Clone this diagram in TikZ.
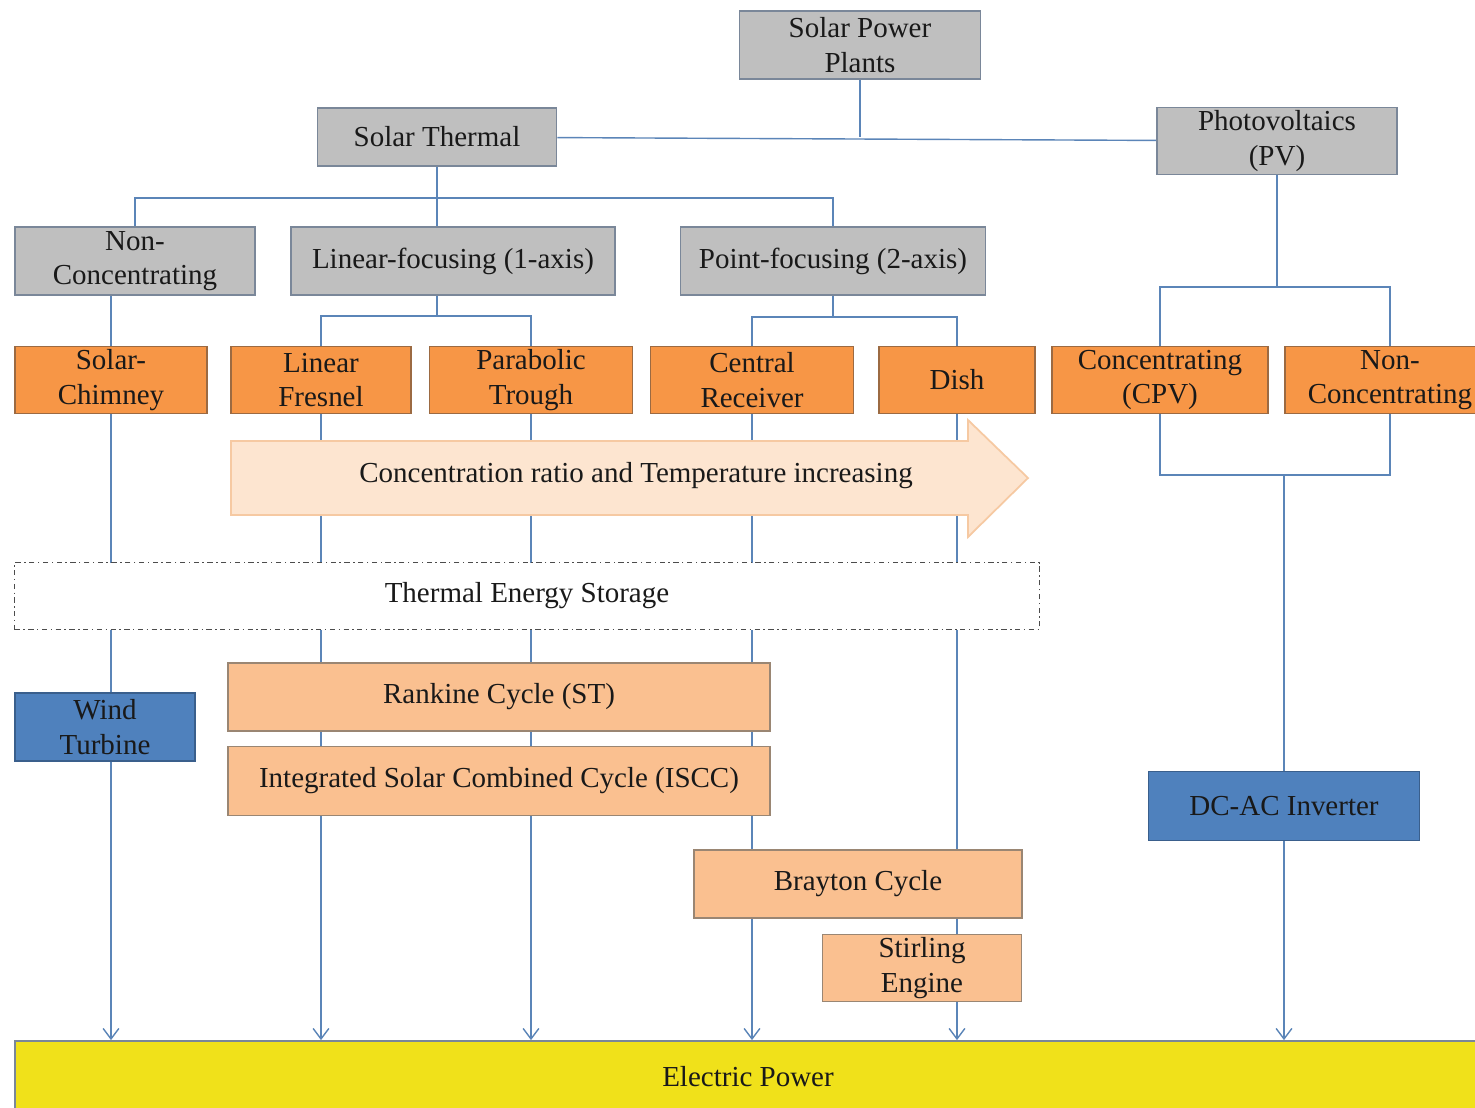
\documentclass[tikz,border=0pt]{standalone}
\usepackage{fontspec}
\setmainfont{Liberation Serif}
\usetikzlibrary{positioning,arrows.meta,backgrounds}

\definecolor{boxgray}{HTML}{BFBFBF}
\definecolor{edgegray}{HTML}{7A8799}
\definecolor{solarorange}{HTML}{F79646}
\definecolor{edgeorange}{HTML}{9C6A42}
\definecolor{peach}{HTML}{FAC090}
\definecolor{edgepeach}{HTML}{9A8673}
\definecolor{steelblue}{HTML}{4F81BD}
\definecolor{edgeblue}{HTML}{3A5F8C}
\definecolor{linkblue}{HTML}{5B85B8}
\definecolor{powyellow}{HTML}{F0E11A}
\definecolor{arrowfill}{HTML}{FDE5D0}
\definecolor{arrowedge}{HTML}{F6C9A2}

\begin{document}
\begin{tikzpicture}[x=0.02cm, y=-0.02cm,
	every node/.style={font=\fontsize{16.5}{19.5}\selectfont, text=black!90, align=center, inner sep=0pt},
	box/.style={draw, line width=1pt, rectangle},
	graybox/.style={box, fill=boxgray, draw=edgegray},
	orangebox/.style={box, fill=solarorange, draw=edgeorange, minimum height=1.34cm},
	peachbox/.style={box, fill=peach, draw=edgepeach},
	bluebox/.style={box, fill=steelblue, draw=edgeblue},
	link/.style={draw=linkblue, line width=0.8pt},
	feed/.style={link, -{Straight Barb[length=6pt, width=9pt]}}]

	\path[use as bounding box] (0, 0) rectangle (1475, 1107);
	\clip (0, 0) rectangle (1475, 1107);

	% Instances/Symbols:
	\node[graybox, minimum width=4.82cm, minimum height=1.36cm] (spp) at (860, 45) {Solar Power\\Plants};
	\node[graybox, minimum width=4.78cm, minimum height=1.16cm] (st) at (437, 137) {Solar Thermal};
	\node[graybox, minimum width=4.8cm, minimum height=1.34cm] (pv) at (1277, 141) {Photovoltaics\\(PV)};

	\node[graybox, minimum width=4.8cm, minimum height=1.36cm] (nc) at (135, 261) {Non-\\Concentrating};
	\node[graybox, minimum width=6.48cm, minimum height=1.36cm] (lf) at (453, 261) {Linear-focusing (1-axis)};
	\node[graybox, minimum width=6.1cm, minimum height=1.36cm] (pf) at (833, 261) {Point-focusing (2-axis)};

	\node[orangebox, minimum width=3.84cm] (sc) at (111, 380) {Solar-\\Chimney};
	\node[orangebox, minimum width=3.6cm] (lfr) at (321, 380) {Linear\\Fresnel};
	\node[orangebox, minimum width=4.06cm] (pt) at (531, 380) {Parabolic\\Trough};
	\node[orangebox, minimum width=4.06cm] (cr) at (752, 380) {Central\\Receiver};
	\node[orangebox, minimum width=3.12cm] (dish) at (957, 380) {Dish};
	\node[orangebox, minimum width=4.32cm] (cpv) at (1160, 380) {Concentrating\\(CPV)};
	\node[orangebox, minimum width=4.2cm] (pnc) at (1390, 380) {Non-\\Concentrating};

	\draw[fill=arrowfill, draw=arrowedge, line width=1pt] (231, 441) -- (968, 441) -- (968, 420) -- (1028, 478)
		-- (968, 537) -- (968, 515) -- (231, 515) -- cycle;
	\node (trend) at (636, 476) {Concentration ratio and Temperature increasing};

	\node[draw=black!70, line width=0.8pt, dash dot, fill=white, minimum width=20.5cm, minimum height=1.34cm] (tes) at (527, 596) {Thermal Energy Storage};

	\node[bluebox, minimum width=3.6cm, minimum height=1.36cm] (wt) at (105, 727) {Wind\\Turbine};
	\node[peachbox, minimum width=10.84cm, minimum height=1.36cm] (rc) at (499, 697) {Rankine Cycle (ST)};
	\node[peachbox, minimum width=10.84cm, minimum height=1.38cm] (iscc) at (499, 781) {Integrated Solar Combined Cycle (ISCC)};
	\node[peachbox, minimum width=6.56cm, minimum height=1.36cm] (bc) at (858, 884) {Brayton Cycle};
	\node[peachbox, minimum width=3.98cm, minimum height=1.34cm] (se) at (922, 968) {Stirling\\Engine};
	\node[bluebox, minimum width=5.42cm, minimum height=1.38cm] (inv) at (1284, 806) {DC-AC Inverter};

	\node[box, fill=powyellow, draw=edgegray, minimum width=29.6cm, minimum height=1.6cm] (ep) at (755, 1081) {};
	\node (eplabel) at (748, 1077) {Electric Power};

	% Bus points:
	\coordinate (stbus) at (437, 198);
	\coordinate (lfbus) at (437, 316);
	\coordinate (pfbus) at (833, 317);
	\coordinate (pvbus) at (1277, 287);
	\coordinate (pvjoin) at (1284, 475);

	% Lines:
	\begin{pgfonlayer}{background}
		\fill[white] (0, 0) rectangle (1475, 1107);
		\draw[link] (st) -- (pv);
		\draw[link] (spp) -- (spp |- st);
		\draw[link] (st) -- (stbus);
		\draw[link] (nc.north) |- (stbus) -| (pf.north);
		\draw[link] (stbus) -- (stbus |- lf.north);
		\draw[link] (sc.north) -- (sc.north |- nc.south);
		\draw[link] (stbus |- lf.south) -- (lfbus);
		\draw[link] (lfr.north) |- (lfbus) -| (pt.north);
		\draw[link] (pf) -- (pfbus);
		\draw[link] (cr.north) |- (pfbus) -| (dish.north);
		\draw[link] (pv) -- (pvbus);
		\draw[link] (cpv.north) |- (pvbus) -| (pnc.north);
		\draw[link] (cpv.south) |- (pvjoin) -| (pnc.south);
		\draw[link] (pvjoin) -- (inv);
		\draw[feed] (inv) -- (inv |- ep.north);
		\foreach \src in {sc, lfr, pt, cr, dish}
			\draw[feed] (\src.south) -- (\src.south |- ep.north);
	\end{pgfonlayer}

\end{tikzpicture}
\end{document}
